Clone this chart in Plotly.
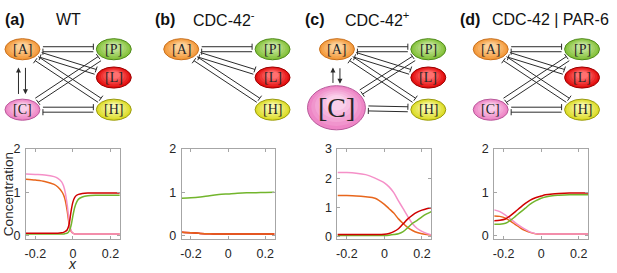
import numpy as np
import plotly.graph_objects as go

W, H = 617, 273

# ---------------- data ----------------
# panel (a) WT
xa = [-0.25, -0.2, -0.15, -0.1, -0.08, -0.06, -0.05, -0.04, -0.03, -0.02, -0.01, 0.0,
      0.01, 0.02, 0.03, 0.05, 0.08, 0.12, 0.18, 0.25]
a_A = [1.30, 1.28, 1.25, 1.18, 1.12, 1.02, 0.94, 0.80, 0.56, 0.26, 0.10, 0.05,
       0.03, 0.03, 0.03, 0.03, 0.03, 0.03, 0.03, 0.03]
a_C = [1.42, 1.41, 1.40, 1.36, 1.32, 1.24, 1.15, 0.98, 0.70, 0.34, 0.12, 0.05,
       0.03, 0.03, 0.03, 0.03, 0.03, 0.03, 0.03, 0.03]
a_L = [0.05, 0.05, 0.05, 0.05, 0.05, 0.06, 0.07, 0.09, 0.13, 0.26, 0.55, 0.77,
       0.88, 0.93, 0.95, 0.97, 0.98, 0.98, 0.98, 0.98]
a_P = [0.03, 0.03, 0.03, 0.03, 0.03, 0.03, 0.03, 0.04, 0.05, 0.10, 0.22, 0.45,
       0.65, 0.77, 0.84, 0.89, 0.92, 0.93, 0.93, 0.93]

# panel (b) CDC-42-
xb = [-0.25, -0.2, -0.15, -0.1, -0.05, 0.0, 0.05, 0.1, 0.15, 0.2, 0.25]
b_P = [0.86, 0.87, 0.89, 0.92, 0.945, 0.96, 0.975, 0.985, 0.99, 0.995, 1.0]
b_A = [0.07, 0.06, 0.045, 0.035, 0.03, 0.03, 0.03, 0.03, 0.03, 0.03, 0.03]

# panel (c) CDC-42+
xc = [-0.25, -0.2, -0.15, -0.1, -0.05, 0.0, 0.025, 0.05, 0.075, 0.1, 0.125, 0.15,
      0.175, 0.2, 0.225, 0.25]
c_C = [2.19, 2.19, 2.17, 2.12, 2.00, 1.84, 1.70, 1.50, 1.22, 0.95, 0.68, 0.43,
       0.27, 0.17, 0.10, 0.05]
c_A = [1.40, 1.40, 1.39, 1.36, 1.31, 1.10, 0.95, 0.80, 0.60, 0.44, 0.30, 0.20,
       0.13, 0.09, 0.06, 0.05]
c_L = [0.06, 0.06, 0.06, 0.06, 0.06, 0.07, 0.10, 0.16, 0.26, 0.43, 0.60, 0.73,
       0.83, 0.90, 0.95, 0.98]
c_P = [0.03, 0.03, 0.03, 0.03, 0.03, 0.03, 0.04, 0.06, 0.09, 0.16, 0.30, 0.45,
       0.55, 0.67, 0.77, 0.85]

# panel (d) CDC-42 | PAR-6
xd = [-0.25, -0.22, -0.19, -0.16, -0.137, -0.11, -0.084, -0.06, -0.03, 0.0, 0.023,
      0.06, 0.094, 0.15, 0.2, 0.25]
d_C = [0.59, 0.55, 0.47, 0.37, 0.29, 0.21, 0.14, 0.08, 0.04, 0.03, 0.03, 0.03,
       0.03, 0.03, 0.03, 0.03]
d_A = [0.45, 0.44, 0.40, 0.32, 0.25, 0.17, 0.11, 0.07, 0.04, 0.03, 0.03, 0.03,
       0.03, 0.03, 0.03, 0.03]
d_L = [0.34, 0.35, 0.38, 0.47, 0.55, 0.65, 0.74, 0.81, 0.87, 0.91, 0.94, 0.96,
       0.97, 0.98, 0.98, 0.98]
d_P = [0.26, 0.26, 0.28, 0.36, 0.44, 0.54, 0.63, 0.72, 0.80, 0.86, 0.89, 0.92,
       0.93, 0.94, 0.94, 0.94]

x_ticks = [-0.2, 0, 0.2]
x_ticktext = ['-0.2', '0', '0.2']

panel_titles = ['WT', 'CDC-42<sup>-</sup>', 'CDC-42<sup>+</sup>', 'CDC-42 | PAR-6']
panel_letters = ['(a)', '(b)', '(c)', '(d)']

COL = {'A': '#e8661c', 'C': '#f590c8', 'L': '#d00000', 'P': '#72b52c'}

# ---------------- helpers ----------------
def P(x, y):
    return x / W, 1 - y / H

shapes = []
annotations = []

def seg(p0, p1, color='#2b2b2b', w=1):
    a0 = P(*p0)
    a1 = P(*p1)
    shapes.append(dict(type='line', xref='paper', yref='paper', x0=a0[0], y0=a0[1],
                       x1=a1[0], y1=a1[1], line=dict(color=color, width=w)))

def mix(c1, c2, t):
    a = [int(c1[i:i + 2], 16) for i in (1, 3, 5)]
    b = [int(c2[i:i + 2], 16) for i in (1, 3, 5)]
    return '#' + ''.join('%02x' % int(round(a[k] + (b[k] - a[k]) * t)) for k in range(3))

NODE_STYLE = {
    'A': ('#f39a3c', '#fcd19a', '#c8701e'),
    'P': ('#86c23c', '#c4e49a', '#4f8a1c'),
    'L': ('#e41010', '#ff7070', '#9a0000'),
    'H': ('#dcdc28', '#f8f8a8', '#9a9a10'),
    'C': ('#ee86c6', '#fad0ea', '#b8589a'),
}

def ellipse(name, cx, cy, rx, ry, fs=14):
    base, light, edge = NODE_STYLE[name]
    n = 6
    for i in range(n):
        s = 1 - 0.65 * i / (n - 1)
        col = mix(base, light, i / (n - 1))
        ccy = cy - (1 - s) * ry * 0.35
        a0 = P(cx - rx * s, ccy - ry * s)
        a1 = P(cx + rx * s, ccy + ry * s)
        shapes.append(dict(type='circle', xref='paper', yref='paper',
                           x0=a0[0], y0=a1[1], x1=a1[0], y1=a0[1],
                           fillcolor=col,
                           line=dict(color=edge if i == 0 else col, width=1 if i == 0 else 0)))
    tx, ty = P(cx, cy)
    annotations.append(dict(x=tx, y=ty, xref='paper', yref='paper', text='[%s]' % name,
                            showarrow=False, xanchor='center', yanchor='middle',
                            font=dict(family='Liberation Serif', size=fs, color='#262626')))

def inhib_pair(n1, n2, sep=2.6, gap=3.0, bar=3.2):
    c1, r1 = np.array(n1[0], float), n1[1]
    c2, r2 = np.array(n2[0], float), n2[1]
    d = c2 - c1
    u = d / np.linalg.norm(d)
    nrm = np.array([-u[1], u[0]])
    t1 = 1 / np.sqrt((u[0] / r1[0]) ** 2 + (u[1] / r1[1]) ** 2) + gap
    t2 = 1 / np.sqrt((u[0] / r2[0]) ** 2 + (u[1] / r2[1]) ** 2) + gap
    for sgn, bar_end in [(-1, 2), (1, 1)]:
        off = nrm * sep * sgn
        p0 = c1 + u * t1 + off
        p1 = c2 - u * t2 + off
        seg(p0, p1)
        pb = p1 if bar_end == 2 else p0
        seg(pb - nrm * bar, pb + nrm * bar)

def arrow(head, tail):
    hx, hy = P(*head)
    annotations.append(dict(x=hx, y=hy, xref='paper', yref='paper', ax=tail[0] - head[0],
                            ay=tail[1] - head[1], axref='pixel', ayref='pixel', text='',
                            showarrow=True, arrowhead=2, arrowsize=1, arrowwidth=1,
                            arrowcolor='#2b2b2b'))

# ---------------- diagrams ----------------
R = (17.5, 11)
diagrams = [
    dict(ox=0, C=(21.5, 107, R), arrows=True),
    dict(ox=159, C=None, arrows=False),
    dict(ox=315, C=(21, 105, (29, 23)), arrows=True),
    dict(ox=469, C=(21.5, 107, R), arrows=False),
]
for k, dg in enumerate(diagrams):
    ox = dg['ox']
    nA = ((ox + 21.5, 44), R)
    nP = ((ox + 113, 44), R)
    nL = ((ox + 113, 73.5), R)
    nH = ((ox + 113, 107), R)
    inhib_pair(nA, nP)
    inhib_pair(nA, nL)
    inhib_pair(nA, nH)
    if dg['C'] is not None:
        cx, cy, rc = dg['C']
        nC = ((ox + cx, cy), rc)
        inhib_pair(nC, nP)
        inhib_pair(nC, nH)
    for nm, nd in [('A', nA), ('P', nP), ('L', nL), ('H', nH)]:
        ellipse(nm, nd[0][0], nd[0][1], nd[1][0], nd[1][1])
    if dg['C'] is not None:
        big = rc[0] > 20
        ellipse('C', ox + cx, cy, rc[0], rc[1], fs=28 if big else 14)
    if dg['arrows']:
        top = 63
        bot = 91 if k == 0 else 80
        arrow((ox + 17.5, top), (ox + 17.5, bot))
        arrow((ox + 24.5, bot), (ox + 24.5, top))

# titles
letter_x = [2, 152, 302, 458]
title_x = [53, 190, 343, 490]
for k in range(4):
    lx, ly = P(letter_x[k], 13)
    annotations.append(dict(x=lx, y=ly, xref='paper', yref='paper', text='<b>%s</b>' % panel_letters[k],
                            showarrow=False, xanchor='left', yanchor='middle',
                            font=dict(family='Liberation Sans', size=16, color='#111')))
    tx, ty = P(title_x[k], 13)
    annotations.append(dict(x=tx, y=ty, xref='paper', yref='paper', text=panel_titles[k],
                            showarrow=False, xanchor='left', yanchor='middle',
                            font=dict(family='Liberation Sans', size=16, color='#111')))

# ---------------- line plots ----------------
fig = go.Figure()
panels = [
    (xa, [('A', a_A), ('C', a_C), ('P', a_P), ('L', a_L)], [-0.09, 2], [0, 1, 2]),
    (xb, [('C', b_A), ('L', b_A), ('A', b_A), ('P', b_P)], [-0.09, 2], [0, 1, 2]),
    (xc, [('A', c_A), ('C', c_C), ('P', c_P), ('L', c_L)], [-0.1, 3], [0, 1, 2, 3]),
    (xd, [('A', d_A), ('C', d_C), ('P', d_P), ('L', d_L)], [-0.09, 2], [0, 1, 2]),
]
xdom_px = [(25, 119), (181, 274), (337, 431), (494, 588)]
ydom = [1 - 242 / H, 1 - 148 / H]

axis_common = dict(showline=True, linecolor='#a6a6a6', linewidth=1, mirror='allticks',
                   ticks='inside', ticklen=3, tickcolor='#a6a6a6', showgrid=False,
                   zeroline=False,
                   tickfont=dict(family='Liberation Sans', size=12.5, color='#262626'))

layout_axes = {}
for i, (xs, series, yr, yt) in enumerate(panels):
    n = '' if i == 0 else str(i + 1)
    for nm, ys in series:
        fig.add_trace(go.Scatter(x=xs, y=ys, mode='lines', xaxis='x' + n, yaxis='y' + n,
                                 line=dict(color=COL[nm], width=1.5, shape='spline', smoothing=0.8),
                                 showlegend=False, hoverinfo='skip'))
    layout_axes['xaxis' + n] = dict(axis_common, domain=[xdom_px[i][0] / W, xdom_px[i][1] / W],
                                    range=[-0.25, 0.25], tickvals=x_ticks, ticktext=x_ticktext,
                                    anchor='y' + n, ticklabelstandoff=3)
    layout_axes['yaxis' + n] = dict(axis_common, domain=ydom, range=yr, tickvals=yt,
                                    ticktext=[str(v) for v in yt], anchor='x' + n,
                                    ticklabelstandoff=2)

cx_, cy_ = P(7, 195)
annotations.append(dict(x=cx_, y=cy_, xref='paper', yref='paper', text='Concentration',
                        textangle=-90, showarrow=False, xanchor='center', yanchor='middle',
                        font=dict(family='Liberation Sans', size=13.5, color='#262626')))
lx_, ly_ = P(72, 268)
annotations.append(dict(x=lx_, y=ly_, xref='paper', yref='paper', text='<i>x</i>',
                        showarrow=False, xanchor='center', yanchor='middle',
                        font=dict(family='Liberation Sans', size=14, color='#262626')))

fig.update_layout(width=W, height=H, margin=dict(l=0, r=0, t=0, b=0),
                  paper_bgcolor='white', plot_bgcolor='white',
                  shapes=shapes, annotations=annotations, **layout_axes)

fig.write_html('out.html', config={'displayModeBar': False},
               post_script="document.body.style.margin='0px';document.body.style.overflow='hidden';")
